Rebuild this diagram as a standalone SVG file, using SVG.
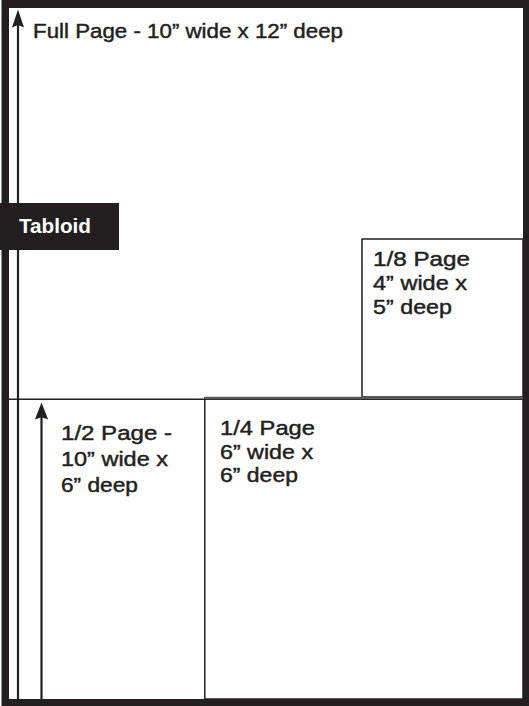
<svg xmlns="http://www.w3.org/2000/svg" width="529" height="706" viewBox="0 0 529 706">
<style>
.t{font-family:"Liberation Sans",Arial,sans-serif;font-size:20px;fill:#231f20;stroke:#231f20;stroke-width:0.45px;}
.tb{font-family:"Liberation Sans",Arial,sans-serif;font-size:20px;font-weight:bold;fill:#ffffff;}
.ln{stroke:#231f20;fill:none;}
</style>
<defs>
<path id="ah" d="M0,0 L-6,18 L0,15.5 L6,18 Z" fill="#231f20"/>
</defs>
<rect width="529" height="706" fill="#ffffff"/>
<g id="full-page">
<path d="M1.5,0 H529 V706 H1.5 Z M9,8 V699 H523 V8 Z" fill="#231f20" fill-rule="evenodd"/>
<text class="t" x="33" y="38" textLength="310" lengthAdjust="spacingAndGlyphs">Full Page - 10” wide x 12” deep</text>
</g>
<g id="tabloid">
<rect x="0" y="203" width="119" height="47" fill="#231f20"/>
<text class="tb" x="19" y="233" textLength="72" lengthAdjust="spacingAndGlyphs">Tabloid</text>
</g>
<g id="eighth-page">
<rect x="362" y="239" width="161" height="158" class="ln" stroke-width="1.5"/>
<text class="t" x="373" y="266" textLength="97" lengthAdjust="spacingAndGlyphs">1/8 Page</text>
<text class="t" x="373" y="290" textLength="94" lengthAdjust="spacingAndGlyphs">4” wide x</text>
<text class="t" x="373" y="314" textLength="79" lengthAdjust="spacingAndGlyphs">5” deep</text>
</g>
<g id="half-page">
<line x1="9" y1="399.2" x2="523" y2="399.2" class="ln" stroke-width="1.5"/>
<text class="t" x="61" y="440" textLength="111" lengthAdjust="spacingAndGlyphs">1/2 Page -</text>
<text class="t" x="61" y="466" textLength="107" lengthAdjust="spacingAndGlyphs">10” wide x</text>
<text class="t" x="61" y="492" textLength="77" lengthAdjust="spacingAndGlyphs">6” deep</text>
</g>
<g id="quarter-page">
<rect x="204.8" y="398" width="318.2" height="301" class="ln" stroke-width="1.5"/>
<line x1="204.8" y1="398" x2="523" y2="398" stroke="#58595b" stroke-width="2.5"/>
<text class="t" x="220" y="435" textLength="95" lengthAdjust="spacingAndGlyphs">1/4 Page</text>
<text class="t" x="220" y="458.5" textLength="93" lengthAdjust="spacingAndGlyphs">6” wide x</text>
<text class="t" x="220" y="482" textLength="78" lengthAdjust="spacingAndGlyphs">6” deep</text>
</g>
<g id="connectors">
<line x1="18" y1="22" x2="18" y2="699" class="ln" stroke-width="2.2"/>
<use href="#ah" transform="translate(18,9.5)"/>
<line x1="41.5" y1="414" x2="41.5" y2="699" class="ln" stroke-width="2.2"/>
<use href="#ah" transform="translate(41.5,402.5) scale(1.1,0.95)"/>
</g>
</svg>
